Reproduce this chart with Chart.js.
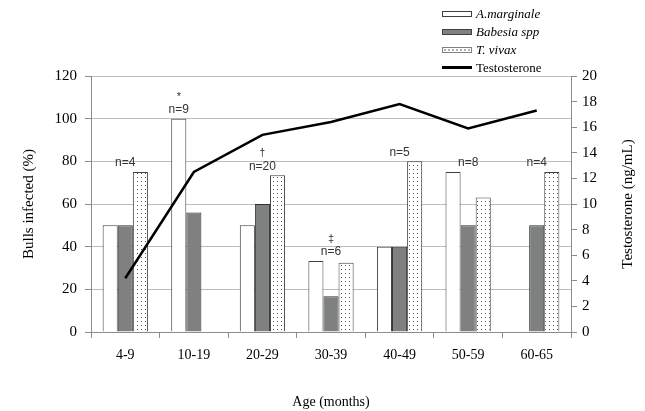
<!DOCTYPE html>
<html><head><meta charset="utf-8">
<script src="https://cdn.jsdelivr.net/npm/chart.js@4.4.1/dist/chart.umd.min.js"></script>
<style>
html,body{margin:0;padding:0;background:#fff;}
#wrap{position:relative;width:645px;height:411px;}
#legend{position:absolute;left:442px;top:5px;font-family:"Liberation Serif",serif;font-size:13px;color:#000;}
#legend .row{position:absolute;left:0;white-space:nowrap;height:18px;line-height:18px;}
#legend .sw{position:absolute;left:0;top:6px;width:30px;height:6px;box-sizing:border-box;}
#legend .tx{position:absolute;left:34px;top:0;}
</style></head>
<body><div id="wrap"><canvas id="c" width="645" height="411"></canvas>
<div id="legend">
 <div class="row" style="top:0px"><div class="sw" style="border:1px solid #404040;background:#fff"></div><div class="tx"><i>A.marginale</i></div></div>
 <div class="row" style="top:18px"><div class="sw" style="border:1px solid #404040;background:#7f8080"></div><div class="tx"><i>Babesia spp</i></div></div>
 <div class="row" style="top:36px"><div class="sw" style="border:1px solid #808080;background-color:#fff;background-image:radial-gradient(#555 0.6px,transparent 0.8px);background-size:4px 4px"></div><div class="tx"><i>T. vivax</i></div></div>
 <div class="row" style="top:54px"><div class="sw" style="border:none;top:7px;height:3px;background:#000"></div><div class="tx">Testosterone</div></div>
</div></div>
<script>
const categories = ['4-9','10-19','20-29','30-39','40-49','50-59','60-65'];
const aMarginale = [50, 100, 50, 33.3, 40, 75, 0];
const babesia    = [50, 56, 60, 16.7, 40, 50, 50];
const tVivax     = [75, 0, 73.5, 32.5, 80, 63, 75];
const testosterone = [4.2, 12.5, 15.4, 16.4, 17.8, 15.9, 17.3];
const leftTicks = [0,20,40,60,80,100,120];
const rightTicks = [0,2,4,6,8,10,12,14,16,18,20];
const nLabels = ['n=4','n=9','n=20','n=6','n=5','n=8','n=4'];
const sigMarks = ['', '*', '\u2020', '\u2021', '', '', ''];
const rightTitle = 'Testosterone (ng/mL)';

function dotPattern(){
  const p = document.createElement('canvas'); p.width = 4; p.height = 4;
  const g = p.getContext('2d');
  g.fillStyle = '#fff'; g.fillRect(0,0,4,4);
  g.fillStyle = '#555';
  g.fillRect(1,1,1,1);
  return g.createPattern(p,'repeat');
}
const ctx = document.getElementById('c').getContext('2d');
const serif = '"Liberation Serif", serif';

const annot = {
  id:'annot',
  afterDatasetsDraw(chart){
    const c = chart.ctx, y = chart.scales.y;
    const metas = [1,2,3].map(i=>chart.getDatasetMeta(i));
    c.save();
    c.fillStyle = '#333';
    c.textAlign = 'center';
    c.textBaseline = 'middle';
    categories.forEach((cat,i)=>{
      const vals = [aMarginale[i], babesia[i], tVivax[i]];
      const m = Math.max(...vals);
      const k = vals.indexOf(m);
      const bars = metas.map(mt=>mt.data[i]);
      let x = (bars[0].x + bars[2].x)/2;
      if (sigMarks[i] === '*') x = bars[k].x;
      const top = y.getPixelForValue(m);
      const ly = top - 9;
      c.font = '12px "Liberation Sans", sans-serif';
      c.fillText(nLabels[i], x, ly);
      if (sigMarks[i]) { c.font = '11px "Liberation Sans", sans-serif'; c.fillText(sigMarks[i], x, ly - 13); }
    });
    // right axis title, reading bottom-to-top
    const a = chart.chartArea;
    c.fillStyle = '#000';
    c.font = '15px ' + serif;
    c.translate(628, (a.top + a.bottom)/2);
    c.rotate(-Math.PI/2);
    c.fillText(rightTitle, 0, 0);
    c.restore();
  }
};

new Chart(ctx, {
  data: {
    labels: categories,
    datasets: [
      {type:'line', label:'Testosterone', data: testosterone, yAxisID:'y2', borderColor:'#000', borderWidth:2.5, pointRadius:0, tension:0, order:0},
      {type:'bar', label:'A.marginale', data: aMarginale, yAxisID:'y', backgroundColor:'#fff', borderColor:'#404040', borderWidth:1, categoryPercentage:0.66, barPercentage:1, order:1},
      {type:'bar', label:'Babesia spp', data: babesia, yAxisID:'y', backgroundColor:'#7f8080', borderColor:'#303030', borderWidth:1, categoryPercentage:0.66, barPercentage:1, order:1},
      {type:'bar', label:'T. vivax', data: tVivax, yAxisID:'y', backgroundColor: dotPattern(), borderColor:'#404040', borderWidth:1, categoryPercentage:0.66, barPercentage:1, order:1}
    ]
  },
  options: {
    responsive:false, animation:false,
    layout:{padding:{top:76, left:0, right:0, bottom:0}},
    plugins:{legend:{display:false}, tooltip:{enabled:false}},
    scales:{
      x:{
        grid:{offset:true, drawOnChartArea:false, drawTicks:true, tickLength:6, color:'#8c8c8c'},
        border:{color:'#8c8c8c'},
        ticks:{font:{family:serif,size:14}, color:'#000', padding:9},
        title:{display:true, text:'Age (months)', font:{family:serif,size:14}, color:'#000', padding:{top:0,bottom:0}},
        afterFit(s){ s.height = 79; }
      },
      y:{
        position:'left', min:0, max:120,
        afterBuildTicks(s){ s.ticks = leftTicks.map(v=>({value:v})); },
        grid:{color:'#bdbdbd', tickLength:6, tickColor:'#8c8c8c'},
        border:{color:'#8c8c8c'},
        ticks:{font:{family:serif,size:15}, color:'#000', padding:8},
        title:{display:true, text:'Bulls infected (%)', font:{family:serif,size:15}, color:'#000', padding:{top:20,bottom:4}},
        afterFit(s){ s.width = 91; }
      },
      y2:{
        position:'right', min:0, max:20,
        afterBuildTicks(s){ s.ticks = rightTicks.map(v=>({value:v})); },
        grid:{drawOnChartArea:false, tickLength:6, color:'#8c8c8c'},
        border:{color:'#8c8c8c'},
        ticks:{font:{family:serif,size:15}, color:'#000', padding:5},
        afterFit(s){ s.width = 74; }
      }
    }
  },
  plugins:[annot]
});
</script></body></html>
